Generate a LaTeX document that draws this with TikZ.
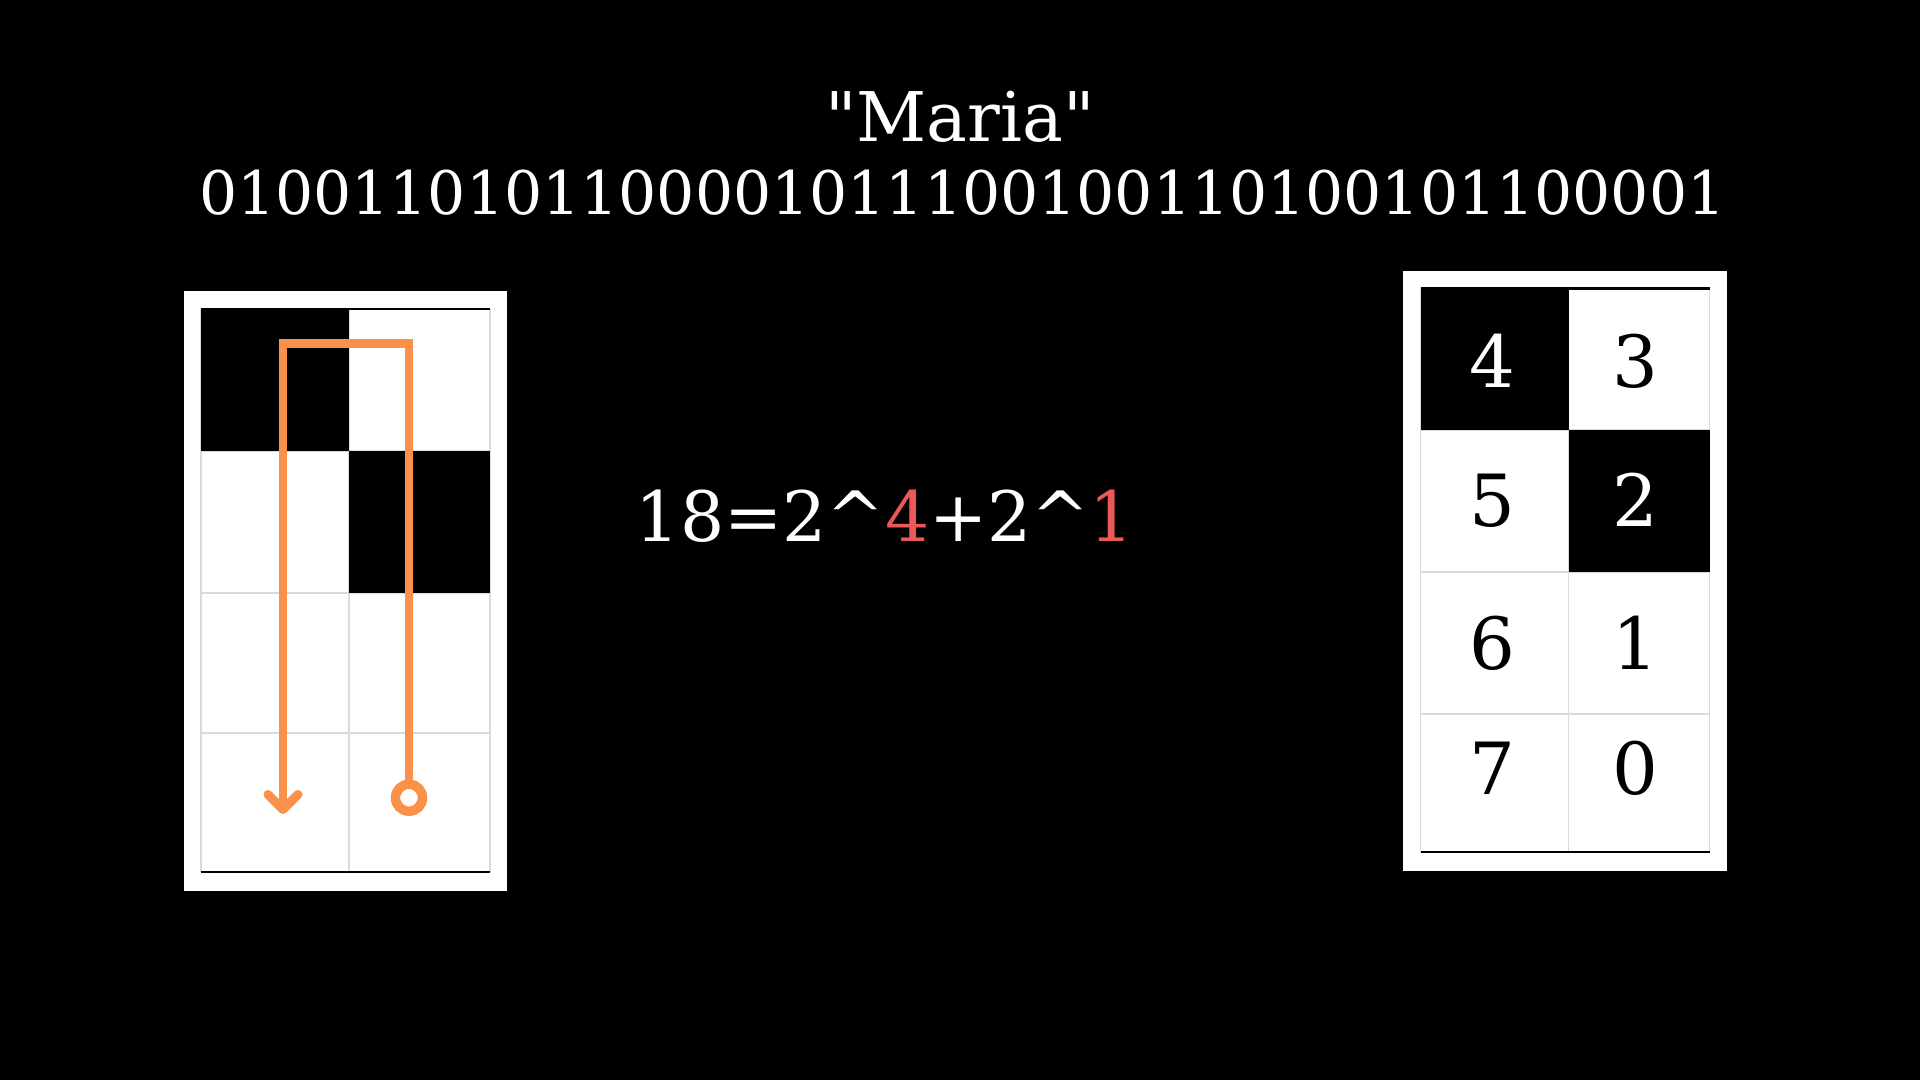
\documentclass[tikz,border=0pt]{standalone}
\usepackage{fontspec}
\setmainfont{DejaVu Serif}[Ligatures=TeXOff]
\definecolor{orng}{RGB}{250,145,75}
\definecolor{redd}{RGB}{236,88,88}
\definecolor{gridgray}{RGB}{218,218,218}
\begin{document}
\begin{tikzpicture}[x=1pt,y=-1pt,
  panelbg/.style={fill=white},
  gline/.style={draw=gridgray,line width=1.5pt},
  edgeline/.style={draw=black,line width=2.6pt},
  cellblack/.style={fill=black},
  orpath/.style={draw=orng,line width=8.7pt,line join=miter},
  orhead/.style={draw=orng,line width=9pt,line cap=round,line join=round},
  bigtxt/.style={text=white,inner sep=0pt,font=\fontsize{68.5}{80}\selectfont},
  bintxt/.style={text=white,inner sep=0pt,font=\fontsize{60}{72}\selectfont},
  eqtxt/.style={text=white,inner sep=0pt,font=\fontsize{69.5}{84}\selectfont},
  numtxt/.style={inner sep=0pt,anchor=base,font=\fontsize{72}{86}\selectfont}]
\fill[black] (0,0) rectangle (1920,1080);
\useasboundingbox (0,0) rectangle (1920,1080);

% titles
\node[bigtxt,anchor=base] (title) at (960,141) {"Maria"};
\node[bintxt,anchor=base] (bits) at (962.5,214) {0100110101100001011100100110100101100001};
\node[eqtxt,anchor=base] (eq) at (885,541) {18=2\^{}\textcolor{redd}{4}+2\^{}\textcolor{redd}{1}};

% left panel
\fill[panelbg] (184,291) rectangle (507,891);
\foreach \x in {201,349,490} \draw[gline] (\x,309) -- (\x,872);
\foreach \y in {451,593,733} \draw[gline] (201,\y) -- (490,\y);
\fill[cellblack] (201,309) rectangle (349,451);
\fill[cellblack] (349,451) rectangle (490,593);
\draw[edgeline] (201,309) -- (490,309);
\draw[edgeline] (201,872) -- (490,872);

\coordinate (ringc) at (409,797.7);
\coordinate (ringtop) at (409,784.3);
\coordinate (cornerR) at (409,343.5);
\coordinate (cornerL) at (283,343.5);
\coordinate (tip) at (283,809.5);
\coordinate (barbL) at (268,794.5);
\coordinate (barbR) at (298,794.5);
\draw[orpath] (ringtop) -- (cornerR) -- (cornerL) -- (tip);
\draw[orhead] (barbL) -- (tip) -- (barbR);
\draw[orng,line width=9.5pt] (ringc) circle[radius=13.5];

% right panel
\fill[panelbg] (1403,271) rectangle (1727,871);
\foreach \x in {1420.5,1568.5,1709.5} \draw[gline] (\x,288.5) -- (\x,852);
\foreach \y in {430,572,714} \draw[gline] (1420.5,\y) -- (1709.5,\y);
\fill[cellblack] (1420.5,288.5) rectangle (1568.5,430);
\fill[cellblack] (1568.5,430) rectangle (1709.5,572);
\draw[edgeline] (1420.5,288.5) -- (1709.5,288.5);
\draw[edgeline] (1420.5,852) -- (1709.5,852);

\node[numtxt,text=white] (n4) at (1492,387) {4};
\node[numtxt,text=black] (n3) at (1635,387) {3};
\node[numtxt,text=black] (n5) at (1492,526) {5};
\node[numtxt,text=white] (n2) at (1635,526) {2};
\node[numtxt,text=black] (n6) at (1492,669) {6};
\node[numtxt,text=black] (n1) at (1635,669) {1};
\node[numtxt,text=black] (n7) at (1492,794) {7};
\node[numtxt,text=black] (n0) at (1635,794) {0};
\end{tikzpicture}
\end{document}
